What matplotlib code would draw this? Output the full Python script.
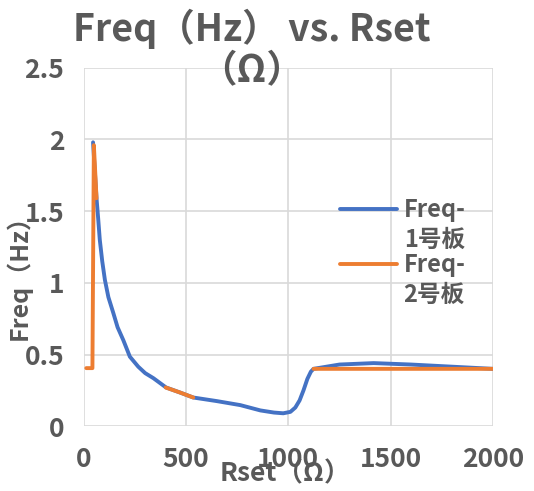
import numpy as np
import matplotlib
matplotlib.use("Agg")
import matplotlib.pyplot as plt
from matplotlib.legend_handler import HandlerLine2D

plt.rcParams['font.family'] = ['Noto Sans CJK SC', 'DejaVu Sans']

# ---------- data ----------
blue_r = [45, 62, 70, 78, 90, 103, 120, 144, 165, 193, 225, 266, 300, 340, 402, 470, 535,
          650, 765, 863, 930, 975, 1010, 1034, 1055, 1074, 1093, 1110, 1123, 1250,
          1417, 1600, 1800, 2000]
blue_f = [1.98, 1.59, 1.45, 1.30, 1.15, 1.02, 0.90, 0.79, 0.69, 0.60, 0.485, 0.415, 0.37,
          0.335, 0.27, 0.235, 0.20, 0.175, 0.147, 0.11, 0.095, 0.09, 0.10, 0.13, 0.18,
          0.25, 0.33, 0.38, 0.40, 0.43, 0.44, 0.43, 0.415, 0.40]

orange_r = [12, 42, 49, 62, np.nan, 400, 470, 535, np.nan, 1123, 2000]
orange_f = [0.405, 0.405, 1.96, 1.59, np.nan, 0.27, 0.235, 0.20, np.nan, 0.40, 0.40]

labels = ['Freq-\n1号板', 'Freq-\n2号板']
x_ticks = [0, 500, 1000, 1500, 2000]
y_ticks = [0, 0.5, 1, 1.5, 2, 2.5]
y_tick_labels = ['0', '0.5', '1', '1.5', '2', '2.5']

gray = '#595959'


# legend key sits level with the first line of its two-line label
class FirstLineHandler(HandlerLine2D):
    def create_artists(self, legend, orig_handle, xdescent, ydescent,
                       width, height, fontsize, trans):
        return super().create_artists(legend, orig_handle, xdescent,
                                      ydescent - 1.45 * fontsize, width, height,
                                      fontsize, trans)


fig = plt.figure(figsize=(5.34, 4.91), dpi=100)
ax = fig.add_axes([0.157, 0.132, 0.766, 0.73])

l1, = ax.plot(blue_r, blue_f, color='#4472C4', lw=2.8, label=labels[0],
              solid_capstyle='round', solid_joinstyle='round')
l2, = ax.plot(orange_r, orange_f, color='#ED7D31', lw=2.8, label=labels[1],
              solid_capstyle='round', solid_joinstyle='round')

ax.set_xlim(0, 2000)
ax.set_ylim(0, 2.5)
ax.set_xticks(x_ticks)
ax.set_yticks(y_ticks)
ax.set_yticklabels(y_tick_labels)
ax.grid(True, color='#d9d9d9', lw=1.2)
ax.set_axisbelow(True)
for s in ax.spines.values():
    s.set_visible(False)
ax.tick_params(length=0, labelsize=19, labelcolor=gray, pad=14)
for t in ax.get_xticklabels() + ax.get_yticklabels():
    t.set_fontweight('bold')

# axis titles
fig.text(285 / 534, 1 - 474 / 491, 'Rset（Ω）', ha='center', va='center',
         fontsize=19, fontweight='bold', color=gray)
fig.text(19 / 534, 1 - 271 / 491, 'Freq（Hz）', ha='center', va='center',
         rotation=90, fontsize=18, fontweight='bold', color=gray)

# chart title
fig.text(0.472, 0.982, 'Freq（Hz） vs. Rset\n（Ω）', ha='center', va='top',
         fontsize=27, fontweight='bold', color=gray, linespacing=1.06)

handler = FirstLineHandler()
leg = ax.legend(handles=[l1, l2], loc='upper left', bbox_to_anchor=(0.626, 0.637),
                frameon=False, prop={'size': 17, 'weight': 'bold'},
                handlelength=2.4, handletextpad=0.3, labelspacing=0.05,
                borderpad=0, borderaxespad=0,
                handler_map={l1: handler, l2: handler})
for t in leg.get_texts():
    t.set_color(gray)
    t.set_linespacing(1.3)

fig.savefig('out.png', dpi=100)
